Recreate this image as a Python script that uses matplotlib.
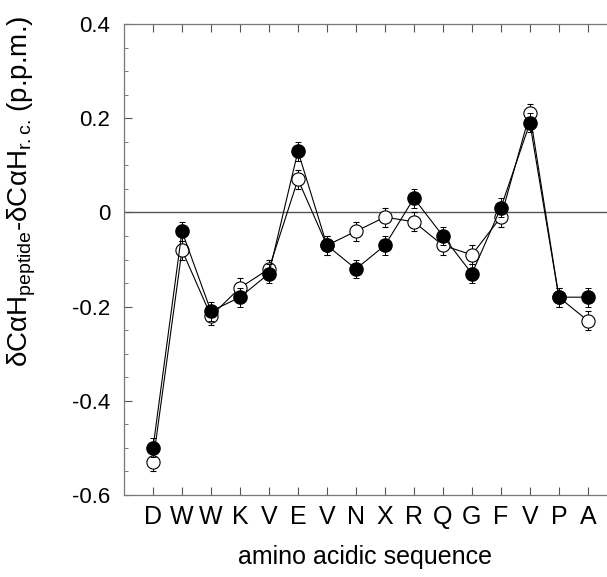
import numpy as np
import matplotlib
matplotlib.use('Agg')
import matplotlib.pyplot as plt
from matplotlib.ticker import MultipleLocator, FuncFormatter

plt.rcParams['font.family'] = ['Liberation Sans', 'DejaVu Sans']
plt.rcParams['mathtext.fontset'] = 'custom'
plt.rcParams['mathtext.rm'] = 'Liberation Sans'
plt.rcParams['mathtext.it'] = 'Liberation Sans:italic'

# sequence and chemical shift deviations (p.p.m.)
residues = ['D', 'W', 'W', 'K', 'V', 'E', 'V', 'N', 'X', 'R', 'Q', 'G', 'F', 'V', 'P', 'A']
filled_vals = [-0.50, -0.04, -0.21, -0.18, -0.13, 0.13, -0.07, -0.12, -0.07, 0.03,
               -0.05, -0.13, 0.01, 0.19, -0.18, -0.18]
open_vals = [-0.53, -0.08, -0.22, -0.16, -0.12, 0.07, -0.07, -0.04, -0.01, -0.02,
             -0.07, -0.09, -0.01, 0.21, -0.18, -0.23]
err = 0.02

x = np.arange(len(residues))

fig = plt.figure(figsize=(6.07, 5.77), dpi=100)
ax = fig.add_axes([124 / 607, 1 - 495 / 577, 1 - 124 / 607, (495 - 24) / 577])

ax.axhline(0, color='#555555', lw=1.0, zorder=1)

ax.errorbar(x, open_vals, yerr=err, fmt='-o', color='black', lw=0.8,
            elinewidth=0.7, capsize=2.5, capthick=0.7,
            markersize=9.5, markerfacecolor='white', markeredgecolor='black',
            markeredgewidth=0.8, zorder=2)
ax.errorbar(x, filled_vals, yerr=err, fmt='-o', color='black', lw=0.8,
            elinewidth=0.7, capsize=2.5, capthick=0.7,
            markersize=9.5, markerfacecolor='black', markeredgecolor='black',
            zorder=3)

ax.set_xlim(-1, 15.66)
ax.set_ylim(-0.6, 0.4)

ax.spines['right'].set_visible(False)
for s in ['left', 'top', 'bottom']:
    ax.spines[s].set_color('#777777')
    ax.spines[s].set_linewidth(0.9)

ax.set_xticks(x)
ax.set_xticklabels(residues, fontsize=18)
ax.yaxis.set_major_locator(MultipleLocator(0.2))
ax.yaxis.set_minor_locator(MultipleLocator(0.05))
ax.yaxis.set_major_formatter(FuncFormatter(lambda v, p: '0' if abs(v) < 1e-9 else ('%.1f' % v)))
ax.tick_params(axis='x', direction='in', top=True, bottom=True, length=6,
               width=0.8, color='#555555', pad=7)
ax.tick_params(axis='y', which='major', direction='in', right=False, length=6,
               width=0.8, color='#555555', labelsize=16, pad=10)
ax.tick_params(axis='y', which='minor', direction='in', right=False, length=3,
               width=0.7, color='#777777')

ax.set_xlabel('amino acidic sequence', fontsize=18, labelpad=12)
ax.set_ylabel(r'δCαH$_{\mathrm{peptide}}$-δCαH$_{\mathrm{r{.}c{.}}}\,$(p.p.m.)', fontsize=20)
ax.yaxis.set_label_coords(-0.178, 0.644)

fig.savefig('out.png', dpi=100)
